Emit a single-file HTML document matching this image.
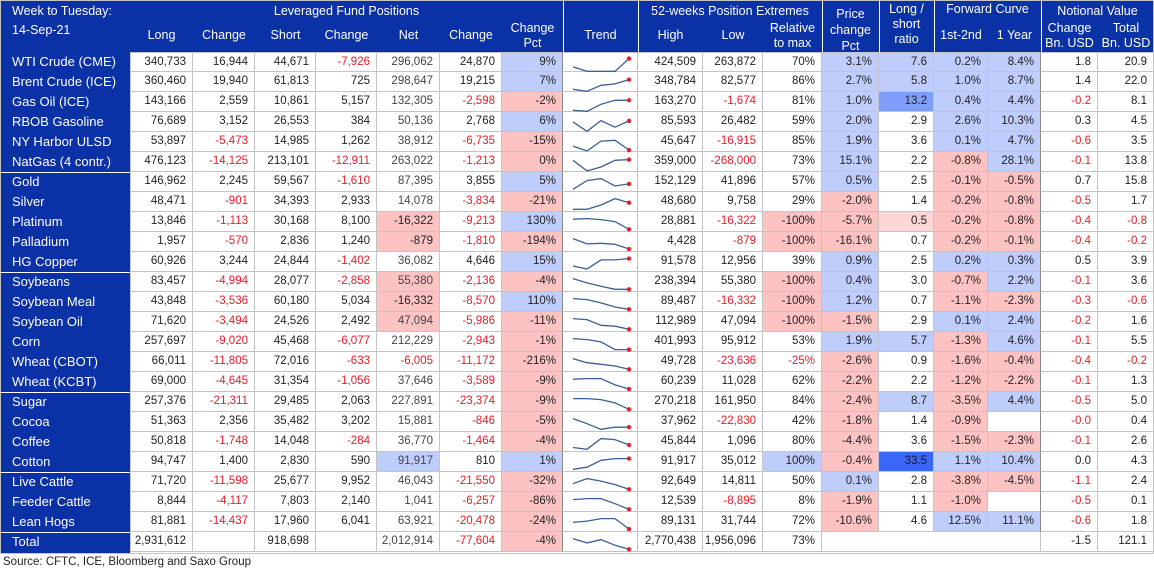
<!DOCTYPE html>
<html><head><meta charset="utf-8">
<style>
html,body{margin:0;padding:0;background:#fff;}
body{width:1154px;height:572px;position:relative;overflow:hidden;font-family:"Liberation Sans",sans-serif;}
#hdr{position:absolute;left:0;top:0;width:1154px;height:52px;background:#0a31a5;}
#lab{position:absolute;left:0;top:52px;width:130px;height:501px;background:#0a31a5;}
#frame{position:absolute;left:0;top:0;width:1154px;height:554px;box-sizing:border-box;border:1px solid #c4c4c4;pointer-events:none;z-index:4;}
.h{position:absolute;color:#fff;font-size:12.5px;text-align:center;line-height:15px;}
.c{position:absolute;box-sizing:border-box;height:20px;line-height:19px;font-size:11.5px;text-align:right;padding-right:6px;color:#222;border-right:1px solid #c4c4c4;border-bottom:1px solid #c4c4c4;white-space:nowrap;}
.l{position:absolute;color:#fff;font-size:13px;line-height:20px;left:12px;}
.vl{position:absolute;top:0;width:1px;background:#fff;}
#src{position:absolute;left:3px;top:556px;font-size:11.5px;color:#222;}
</style></head>
<body>
<div id="hdr"></div>
<div id="lab"></div>
<div id="frame"></div>
<svg id="spark" width="1154" height="572" style="position:absolute;left:0;top:0;pointer-events:none;z-index:3"></svg>
<div id="src">Source: CFTC, ICE, Bloomberg and Saxo Group</div>
<script>
const labels=["WTI Crude (CME)","Brent Crude (ICE)","Gas Oil (ICE)","RBOB Gasoline","NY Harbor ULSD","NatGas (4 contr.)","Gold","Silver","Platinum","Palladium","HG Copper","Soybeans","Soybean Meal","Soybean Oil","Corn","Wheat (CBOT)","Wheat (KCBT)","Sugar","Cocoa","Coffee","Cotton","Live Cattle","Feeder Cattle","Lean Hogs","Total"];
const values=[
["340,733","16,944","44,671","-7,926","296,062","24,870","9%","","424,509","263,872","70%","3.1%","7.6","0.2%","8.4%","1.8","20.9"],
["360,460","19,940","61,813","725","298,647","19,215","7%","","348,784","82,577","86%","2.7%","5.8","1.0%","8.7%","1.4","22.0"],
["143,166","2,559","10,861","5,157","132,305","-2,598","-2%","","163,270","-1,674","81%","1.0%","13.2","0.4%","4.4%","-0.2","8.1"],
["76,689","3,152","26,553","384","50,136","2,768","6%","","85,593","26,482","59%","2.0%","2.9","2.6%","10.3%","0.3","4.5"],
["53,897","-5,473","14,985","1,262","38,912","-6,735","-15%","","45,647","-16,915","85%","1.9%","3.6","0.1%","4.7%","-0.6","3.5"],
["476,123","-14,125","213,101","-12,911","263,022","-1,213","0%","","359,000","-268,000","73%","15.1%","2.2","-0.8%","28.1%","-0.1","13.8"],
["146,962","2,245","59,567","-1,610","87,395","3,855","5%","","152,129","41,896","57%","0.5%","2.5","-0.1%","-0.5%","0.7","15.8"],
["48,471","-901","34,393","2,933","14,078","-3,834","-21%","","48,680","9,758","29%","-2.0%","1.4","-0.2%","-0.8%","-0.5","1.7"],
["13,846","-1,113","30,168","8,100","-16,322","-9,213","130%","","28,881","-16,322","-100%","-5.7%","0.5","-0.2%","-0.8%","-0.4","-0.8"],
["1,957","-570","2,836","1,240","-879","-1,810","-194%","","4,428","-879","-100%","-16.1%","0.7","-0.2%","-0.1%","-0.4","-0.2"],
["60,926","3,244","24,844","-1,402","36,082","4,646","15%","","91,578","12,956","39%","0.9%","2.5","0.2%","0.3%","0.5","3.9"],
["83,457","-4,994","28,077","-2,858","55,380","-2,136","-4%","","238,394","55,380","-100%","0.4%","3.0","-0.7%","2.2%","-0.1","3.6"],
["43,848","-3,536","60,180","5,034","-16,332","-8,570","110%","","89,487","-16,332","-100%","1.2%","0.7","-1.1%","-2.3%","-0.3","-0.6"],
["71,620","-3,494","24,526","2,492","47,094","-5,986","-11%","","112,989","47,094","-100%","-1.5%","2.9","0.1%","2.4%","-0.2","1.6"],
["257,697","-9,020","45,468","-6,077","212,229","-2,943","-1%","","401,993","95,912","53%","1.9%","5.7","-1.3%","4.6%","-0.1","5.5"],
["66,011","-11,805","72,016","-633","-6,005","-11,172","-216%","","49,728","-23,636","-25%","-2.6%","0.9","-1.6%","-0.4%","-0.4","-0.2"],
["69,000","-4,645","31,354","-1,056","37,646","-3,589","-9%","","60,239","11,028","62%","-2.2%","2.2","-1.2%","-2.2%","-0.1","1.3"],
["257,376","-21,311","29,485","2,063","227,891","-23,374","-9%","","270,218","161,950","84%","-2.4%","8.7","-3.5%","4.4%","-0.5","5.0"],
["51,363","2,356","35,482","3,202","15,881","-846","-5%","","37,962","-22,830","42%","-1.8%","1.4","-0.9%","","-0.0","0.4"],
["50,818","-1,748","14,048","-284","36,770","-1,464","-4%","","45,844","1,096","80%","-4.4%","3.6","-1.5%","-2.3%","-0.1","2.6"],
["94,747","1,400","2,830","590","91,917","810","1%","","91,917","35,012","100%","-0.4%","33.5","1.1%","10.4%","0.0","4.3"],
["71,720","-11,598","25,677","9,952","46,043","-21,550","-32%","","92,649","14,811","50%","0.1%","2.8","-3.8%","-4.5%","-1.1","2.4"],
["8,844","-4,117","7,803","2,140","1,041","-6,257","-86%","","12,539","-8,895","8%","-1.9%","1.1","-1.0%","","-0.5","0.1"],
["81,881","-14,437","17,960","6,041","63,921","-20,478","-24%","","89,131","31,744","72%","-10.6%","4.6","12.5%","11.1%","-0.6","1.8"],
["2,931,612","","918,698","","2,012,914","-77,604","-4%","","2,770,438","1,956,096","73%","","","","","-1.5","121.1"]
];
const fills=[
"......b....bbbb..","......b....bbbb..","......p....bBbb..","......b....b.bb..","......p....b.bb..","......p....b.pb..",
"......b....b.pp..","......p....p.pp..","....p.b...ppqpp..","....p.p...pp.pp..","......b....b.bb..",
"....p.p...pb.pb..","....p.b...pb.pp..","....p.p...pp.bb..","......p....bbpb..","......p....p.pp..","......p....p.pp..",
"......p....pbpb..","......p....p.p...","......p....p.pp..","....b.b...bpDbb..",
"......p....b.pp..","......p....p.p...","......p....p.bb..","......p.........."
];
const trends=[
[0.35,0,0,0,1],[0.16,0,0.47,0.58,0.92],[0.08,0,0.55,0.87,0.87],[0.74,0,0.84,0.32,0.82],[0.4,0.03,0.8,0.87,0.1],[0.87,0.03,0.34,0.87,0.92],
[0.16,0.84,1,0.42,0.58],[0.16,0.16,0.5,1,0.68],[0.95,1,0.92,0.76,0.16],[1,0.58,0.63,0.55,0.18],[0.42,0.18,0.9,0.9,1],
[1,0.66,0.4,0.16,0.16],[1,0.92,0.66,0.34,0.16],[1,0.92,0.47,0.4,0.16],[1,0.92,0.74,0.13,0.13],[1,0.68,0.55,0.42,0.16],[0.95,1,1,0.5,0.18],
[1,1,0.92,0.66,0.16],[1,0.6,0.16,0.32,0.32],[0.3,0.16,1,0.92,0.5],[0.16,0.32,0.87,1,1],
[0.6,1,0.8,0.53,0.16],[0.92,1,1,0.6,0.16],[0.7,0.8,1,1,0.18],[1,0.66,0.92,0.47,0.16]
];
const colNames=["long","long-change","short","short-change","net","net-change","change-pct","trend","high-52w","low-52w","relative-to-max","price-change-pct","long-short-ratio","curve-1st-2nd","curve-1-year","notional-change","notional-total"];
const edges=[0,130,193,255,316,377,440,502,563,638,703,763,822,879,934,988,1041,1098,1154];
const colorMap={b:"#bfcdfc",p:"#fdc3c3",q:"#fdd6d6",B:"#7f9efc",D:"#3a67f6"};
const TOP=52,RH=20;
const body=document.body;
function rowY(i){return TOP+i*RH;}
const heads=[
[0,140,4,"Week to Tuesday:",true],[0,110,23,"14-Sep-21",true],
[130,433,4,"Leveraged Fund Positions"],
[130,63,28,"Long"],[193,62,28,"Change"],[255,61,28,"Short"],[316,61,28,"Change"],[377,63,28,"Net"],[440,62,28,"Change"],[502,61,21,"Change<br>Pct"],
[563,75,28,"Trend"],[638,184,4,"52-weeks Position Extremes"],[638,65,28,"High"],[703,60,28,"Low"],[763,59,21,"Relative<br>to max"],
[822,57,6,"Price<br>change<br>Pct"],[879,55,2,"Long /<br>short<br>ratio"],[934,107,2,"Forward Curve"],[934,54,28,"1st-2nd"],[988,53,28,"1 Year"],
[1041,113,4,"Notional Value"],[1041,57,21,"Change<br>Bn. USD"],[1098,56,21,"Total<br>Bn. USD"]
];
heads.forEach(h=>{const d=document.createElement('div');d.className='h';
d.style.left=(h[4]?12:h[0])+'px';d.style.width=h[1]+'px';d.style.top=h[2]+'px';if(h[4])d.style.textAlign='left';
if(h[3].indexOf('<br>')>=0&&h[0]==822)d.style.lineHeight='16px';
d.innerHTML=h[3];


body.appendChild(d);});
[563,638,822,879,934,1041].forEach(x=>{const v=document.createElement('div');v.className='vl';v.style.left=x+'px';v.style.height='52px';


body.appendChild(v);});
labels.forEach((t,i)=>{const d=document.createElement('div');d.className='l';d.style.top=rowY(i)+'px';d.textContent=t;


body.appendChild(d);});
[6,11,17,21,24].forEach(i=>{const s=document.createElement('div');s.style.cssText='position:absolute;left:0;width:130px;height:1px;background:#fff;top:'+rowY(i)+'px';


body.appendChild(s);});
values.forEach((row,i)=>{
 row.forEach((v,j)=>{
  const isTotal=i===values.length-1;
  if(isTotal&&j>=11&&j<=14){if(j!==11)return;}
  const d=document.createElement('div');d.className='c';
  const x0=edges[j+1];let x1=edges[j+2];
  if(isTotal&&j===11)x1=edges[16];
  d.style.left=x0+'px';d.style.top=rowY(i)+'px';d.style.width=(x1-x0)+'px';
  if(j===0)d.style.borderLeft='1px solid #c4c4c4';
  if(i===0)d.style.borderTop='1px solid #c4c4c4';
  if(j===6||j===14)d.style.borderRight='1px solid #8a8a8a';
  const f=fills[i][j];
  if(f&&f!=='.')d.style.background=colorMap[f];
  if(f==='D')d.style.color='#1a1a1a';
  if(v.startsWith('-')&&(f==='.'||!f)&&!(isTotal&&j===15))d.style.color='#ee1c25';
  if(j===4&&!v.startsWith('-'))d.style.color='#444';
  d.textContent=v;
  
  
  body.appendChild(d);
 });
});
const svg=document.getElementById('spark');const NS='http://www.w3.org/2000/svg';
const tx=[573,587,601,615,629];
function sy(i,v){return rowY(i)+19.3-v*12.7;}
trends.forEach((t,i)=>{
 const pts=t.map((v,k)=>tx[k]+','+sy(i,v).toFixed(1)).join(' ');
 const pl=document.createElementNS(NS,'polyline');pl.setAttribute('points',pts);pl.setAttribute('fill','none');pl.setAttribute('stroke','#3c5f95');pl.setAttribute('stroke-width','1.3');
 
 
 svg.appendChild(pl);
 const c=document.createElementNS(NS,'circle');c.setAttribute('cx',tx[4]);c.setAttribute('cy',sy(i,t[4]));c.setAttribute('r','2.2');c.setAttribute('fill','#ee1c25');
 
 
 svg.appendChild(c);
});
</script>
</body></html>
